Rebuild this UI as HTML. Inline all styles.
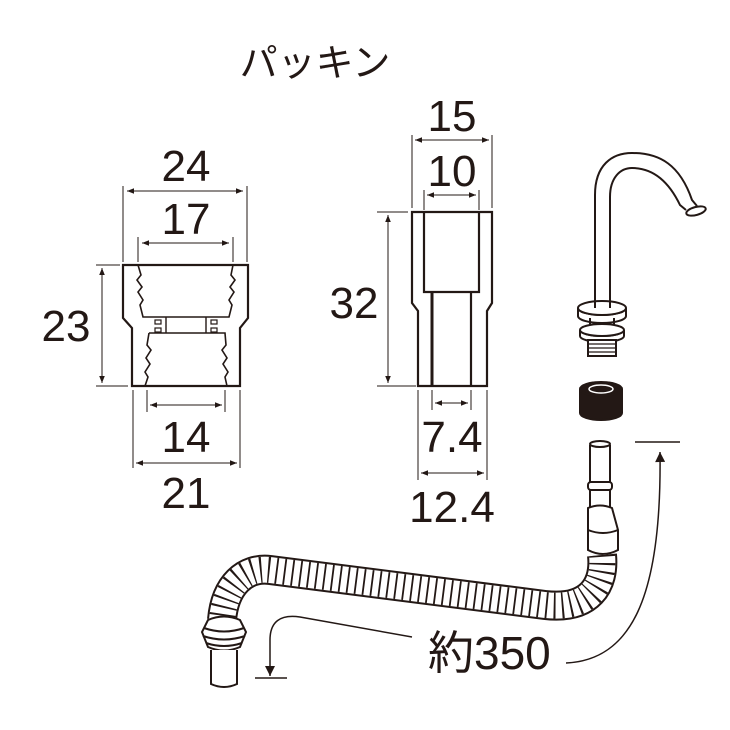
<!DOCTYPE html>
<html><head><meta charset="utf-8"><style>
html,body{margin:0;padding:0;background:#fff}
svg{display:block}
text{font-family:"Liberation Sans","Noto Sans CJK JP",sans-serif;fill:#231815}
</style></head><body>
<svg width="730" height="730" viewBox="0 0 730 730" xmlns="http://www.w3.org/2000/svg">
<defs>
<marker id="a" viewBox="0 0 10 10" refX="10" refY="5" markerWidth="9" markerHeight="7" orient="auto-start-reverse" markerUnits="userSpaceOnUse"><path d="M0,1 L10,5 L0,9 Z" fill="#231815"/></marker>
<marker id="b" viewBox="0 0 10 10" refX="10" refY="5" markerWidth="14" markerHeight="10" orient="auto" markerUnits="userSpaceOnUse"><path d="M0,0 L10,5 L0,10 Z" fill="#231815"/></marker>
</defs>
<g stroke="#231815" fill="none">
<text x="315" y="76" font-size="38" text-anchor="middle" stroke="none">パッキン</text>

<!-- Left packing -->
<g stroke-width="1">
<line x1="123" y1="186" x2="123" y2="262"/><line x1="247" y1="186" x2="247" y2="262"/>
<line x1="127" y1="191" x2="243" y2="191" marker-start="url(#a)" marker-end="url(#a)"/>
<line x1="138" y1="237" x2="138" y2="262"/><line x1="233" y1="237" x2="233" y2="262"/>
<line x1="142" y1="243" x2="229" y2="243" marker-start="url(#a)" marker-end="url(#a)"/>
<line x1="96" y1="265" x2="120" y2="265"/><line x1="96" y1="386" x2="128" y2="386"/>
<line x1="102" y1="268" x2="102" y2="383" marker-start="url(#a)" marker-end="url(#a)"/>
<line x1="147" y1="390" x2="147" y2="412"/><line x1="225" y1="390" x2="225" y2="412"/>
<line x1="150" y1="405" x2="222" y2="405" marker-start="url(#a)" marker-end="url(#a)"/>
<line x1="133" y1="390" x2="133" y2="468"/><line x1="240" y1="390" x2="240" y2="468"/>
<line x1="136" y1="463" x2="237" y2="463" marker-start="url(#a)" marker-end="url(#a)"/>
</g>
<g stroke-width="2.2">
<path d="M123,265 H248 V318 L240,328 V386 H132 V328 L123,318 Z"/>
<path d="M138,265 L141,275 L137,280 L142,287 L138,292 L143,300 L140,305 L143,317 H229 L232,305 L229,300 L234,292 L230,287 L235,280 L231,275 L233,265" stroke-width="1.6"/>
<path d="M149,333 H225 L226,345 L222,350 L227,358 L223,364 L228,372 L225,377 L227,386 M149,333 L147,345 L151,350 L146,358 L150,364 L145,372 L148,377 L145,386" stroke-width="1.6"/>
<path d="M166,317 V333 M206,317 V333" stroke-width="1.4"/>
<rect x="155" y="320" width="6" height="4" stroke-width="1.2"/><rect x="155" y="328" width="6" height="4" stroke-width="1.2"/>
<rect x="211" y="320" width="6" height="4" stroke-width="1.2"/><rect x="211" y="328" width="6" height="4" stroke-width="1.2"/>
</g>
<text x="186" y="181" font-size="44" text-anchor="middle" stroke="none">24</text>
<text x="186" y="234" font-size="44" text-anchor="middle" stroke="none">17</text>
<text x="66" y="341" font-size="44" text-anchor="middle" stroke="none">23</text>
<text x="186" y="452" font-size="44" text-anchor="middle" stroke="none">14</text>
<text x="186" y="508" font-size="44" text-anchor="middle" stroke="none">21</text>

<!-- Middle packing -->
<g stroke-width="1">
<line x1="412" y1="135" x2="412" y2="208"/><line x1="492" y1="135" x2="492" y2="208"/>
<line x1="415" y1="140" x2="489" y2="140" marker-start="url(#a)" marker-end="url(#a)"/>
<line x1="424" y1="190" x2="424" y2="210"/><line x1="479" y1="190" x2="479" y2="210"/>
<line x1="427" y1="195" x2="476" y2="195" marker-start="url(#a)" marker-end="url(#a)"/>
<line x1="377" y1="212" x2="408" y2="212"/><line x1="377" y1="386" x2="416" y2="386"/>
<line x1="388" y1="215" x2="388" y2="383" marker-start="url(#a)" marker-end="url(#a)"/>
<line x1="432" y1="390" x2="432" y2="410"/><line x1="471" y1="390" x2="471" y2="410"/>
<line x1="435" y1="403" x2="468" y2="403" marker-start="url(#a)" marker-end="url(#a)"/>
<line x1="418" y1="390" x2="418" y2="480"/><line x1="487" y1="390" x2="487" y2="480"/>
<line x1="421" y1="473" x2="484" y2="473" marker-start="url(#a)" marker-end="url(#a)"/>
</g>
<g stroke-width="2.2">
<path d="M412,212 H492 V303 L487,311 V386 H418 V311 L412,303 Z"/>
<path d="M424,212 V292 H479 V212"/>
<line x1="432" y1="292" x2="432" y2="386" stroke-width="3"/>
<line x1="471" y1="292" x2="471" y2="386"/>
</g>
<text x="452" y="131" font-size="44" text-anchor="middle" stroke="none">15</text>
<text x="452" y="186" font-size="44" text-anchor="middle" stroke="none">10</text>
<text x="354" y="318" font-size="44" text-anchor="middle" stroke="none">32</text>
<text x="452" y="452" font-size="44" text-anchor="middle" stroke="none">7.4</text>
<text x="452" y="522" font-size="44" text-anchor="middle" stroke="none">12.4</text>

<!-- Faucet -->
<g stroke-width="2">
<path d="M595,310 V195 C595,165 612,153 632,153 C660,153 680,165 692,200 L697,206"/>
<path d="M610,310 V197 C610,178 620,168 632,168 C652,168 668,180 680,205 L686,210"/>
<ellipse cx="696" cy="211" rx="10" ry="4" transform="rotate(-15 696 211)"/>
<path d="M578,308 A24,7 0 0 0 626,308 V316 A24,7 0 0 1 578,316 Z" fill="#fff"/>
<ellipse cx="602" cy="308" rx="24" ry="7" fill="#fff"/>
<path d="M595,308 V300 M610,308 V300"/>
<path d="M590,318 V328 H614 V318"/>
<path d="M580,330 A22,6 0 0 0 624,330 V336 A22,6 0 0 1 580,336 Z" fill="#fff"/>
<ellipse cx="602" cy="330" rx="22" ry="6" fill="#fff"/>
<path d="M588,340 V356 H616 V340 Z" fill="#fff"/>
<path d="M589,344 H615 M589,348 H615 M589,352 H615" stroke-width="1.3"/>
<path d="M580,389 V413 A21,7 0 0 0 622,413 V389" fill="#231815"/>
<ellipse cx="601" cy="389" rx="21" ry="7" fill="#231815"/>
<ellipse cx="601" cy="389" rx="12" ry="4" stroke="#fff" fill="#231815" stroke-width="1.5"/>
</g>

<!-- Hose -->
<g stroke-width="2">
<path d="M590,445 V488 M610,445 V488"/>
<ellipse cx="600" cy="444" rx="10" ry="3"/>
<rect x="588" y="482" width="24" height="8" rx="3" fill="#fff"/>
<path d="M590,490 V508 M610,490 V508"/>
<path d="M588,508 Q600,503 612,508 L618,530 V550 Q603,558 588,550 V530 Z" fill="#fff"/>
<path d="M588,530 Q603,536 618,530"/>
</g>
<path d="M602,555 C605,585 590,610 545,605 L270,570 C245,567 225,585 222,620" stroke="#231815" stroke-width="30" stroke-linecap="butt"/>
<path d="M602,555 C605,585 590,610 545,605 L270,570 C245,567 225,585 222,620" stroke="#fff" stroke-width="26"/>
<path d="M602,555 C605,585 590,610 545,605 L270,570 C245,567 225,585 222,620" stroke="#231815" stroke-width="26" stroke-dasharray="1.8 6.2"/>
<g stroke-width="2">
<path d="M208,620 Q224,613 240,620 L246,632 L240,647 Q224,654 208,647 L202,632 Z" fill="#fff"/>
<path d="M204,628 Q224,635 244,628 M203,636 Q224,643 245,636 M206,643 Q224,649 242,643"/>
<path d="M211,650 V684 Q224,690 237,684 V650" fill="#fff"/>
</g>

<!-- 約350 dimension -->
<g stroke-width="1.5">
<line x1="635" y1="442" x2="680" y2="442"/>
<path d="M566,663 C630,660 662,600 660,452" marker-end="url(#b)"/>
<path d="M412,637 L300,617 C280,614 270,622 270,640 V676" marker-end="url(#b)"/>
<line x1="255" y1="678" x2="287" y2="678"/>
</g>
<text x="428" y="669" font-size="46" stroke="none">約350</text>
</g>
</svg>
</body></html>
